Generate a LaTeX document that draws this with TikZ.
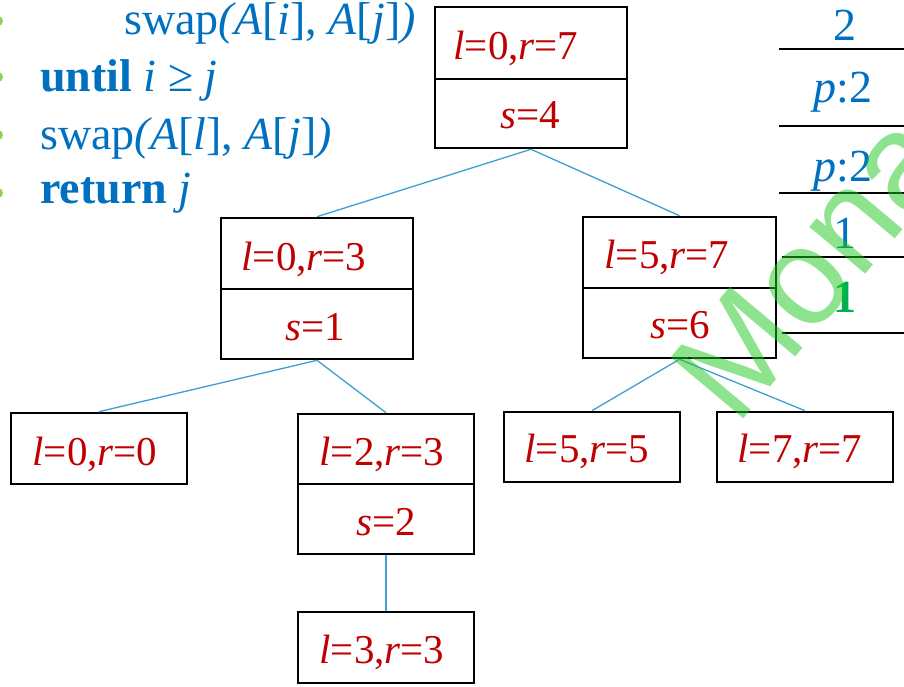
\documentclass[tikz,border=0pt]{standalone}
\usepackage{fontspec}
\setmainfont{Liberation Serif}
\newfontfamily\wmfont{Liberation Sans}
\definecolor{codeblue}{RGB}{0,112,192}
\definecolor{valred}{RGB}{192,0,0}
\definecolor{linkblue}{RGB}{60,160,210}
\definecolor{bulletgreen}{RGB}{146,208,80}
\definecolor{markgreen}{RGB}{0,176,80}
\definecolor{wmgreen}{RGB}{30,200,30}
\newcommand\lrtext[2]{\textit{l}=#1,\textit{r}=#2}
\newcommand\stext[1]{\textit{s}=#1}
\tikzset{
  cell/.style={draw=black, line width=2.6pt, inner sep=0pt},
  val/.style={text=valred, inner sep=0pt, anchor=base, font=\fontsize{41}{41}\selectfont},
  code/.style={text=codeblue, inner sep=0pt, anchor=base west, font=\fontsize{46}{50}\selectfont},
  tab/.style={text=codeblue, inner sep=0pt, anchor=base, font=\fontsize{46}{50}\selectfont},
  link/.style={draw=linkblue, line width=1.3pt},
  rule/.style={draw=black, line width=2.8pt},
}
\begin{document}
\begin{tikzpicture}[x=1pt,y=-1pt]
\useasboundingbox (0,0) rectangle (904,687);
\clip (0,0) rectangle (904,687);

% bullets of the pseudocode, cut by the left edge
\foreach \yy in {21,77,135,193}
  \fill[bulletgreen] (-2,\yy) ellipse [x radius=5pt, y radius=5pt];

% pseudocode
\node[code] (c1) at (124,35) {swap\textit{(A}[\textit{i}], \textit{A}[\textit{j}]\textit{)}};
\node[code] (c2) at (40,92) {\textbf{until} \textit{i} ≥ \textit{j}};
\node[code] (c3) at (40,150) {swap\textit{(A}[\textit{l}], \textit{A}[\textit{j}]\textit{)}};
\node[code] (c4) at (40,203) {\textbf{return} \textit{j}};

% recursion tree: cells
\node[cell, minimum width=192pt, minimum height=72pt] (rt) at (531,43) {};
\node[cell, minimum width=192pt, minimum height=69pt] (rb) at (531,113.5) {};
\node[cell, minimum width=192pt, minimum height=71pt] (at) at (317,253.5) {};
\node[cell, minimum width=192pt, minimum height=70pt] (ab) at (317,324) {};
\node[cell, minimum width=193pt, minimum height=71pt] (bt) at (679.5,252.5) {};
\node[cell, minimum width=193pt, minimum height=70pt] (bb) at (679.5,323) {};
\node[cell, minimum width=176pt, minimum height=71pt] (c) at (99,448.5) {};
\node[cell, minimum width=176pt, minimum height=70pt] (dt) at (386,449) {};
\node[cell, minimum width=176pt, minimum height=70pt] (db) at (386,519) {};
\node[cell, minimum width=176pt, minimum height=71pt] (e) at (386,647.5) {};
\node[cell, minimum width=176pt, minimum height=70pt] (f) at (592,447) {};
\node[cell, minimum width=176pt, minimum height=70pt] (g) at (805,447) {};

% recursion tree: values
\node[val] (trt) at (516,60) {\lrtext{0}{7}};
\node[val] (trb) at (530,129) {\stext{4}};
\node[val] (tat) at (304,270) {\lrtext{0}{3}};
\node[val] (tab) at (315,340) {\stext{1}};
\node[val] (tbt) at (667,268) {\lrtext{5}{7}};
\node[val] (tbb) at (680,338) {\stext{6}};
\node[val] (tc) at (95,465) {\lrtext{0}{0}};
\node[val] (tdt) at (382,465) {\lrtext{2}{3}};
\node[val] (tdb) at (386,535) {\stext{2}};
\node[val] (te) at (382,663) {\lrtext{3}{3}};
\node[val] (tf) at (587,462) {\lrtext{5}{5}};
\node[val] (tg) at (800,462) {\lrtext{7}{7}};

% recursion tree: links
\draw[link] (rb.south) -- (at.north);
\draw[link] (rb.south) -- (bt.north);
\draw[link] (ab.south) -- (c.north);
\draw[link] (ab.south) -- (dt.north);
\draw[link] (bb.south) -- (f.north);
\draw[link] (bb.south) -- (g.north);
\draw[link] (db.south) -- (e.north);

% stack table on the right
\draw[rule] (779,49) -- (910,49);
\draw[rule] (779,126) -- (910,126);
\draw[rule] (779,193) -- (910,193);
\draw[rule] (782,257) -- (910,257);
\draw[rule] (782,333) -- (910,333);
\node[tab] (s1) at (845,41) {2};
\node[tab] (s2) at (843,103) {\textit{p}:2};
\node[tab] (s3) at (843,182) {\textit{p}:2};
\node[tab] (s4) at (845,248) {1};
\node[tab, text=markgreen] (s5) at (845,312) {\textbf{1}};

% watermark
\node[text=wmgreen, text opacity=0.5, inner sep=0pt, anchor=base west, rotate=50,
      font=\wmfont\fontsize{138}{138}\selectfont] (wm) at (736,428) {Mona};
\end{tikzpicture}
\end{document}
